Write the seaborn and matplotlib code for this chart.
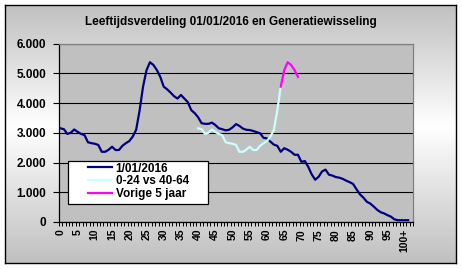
import numpy as np
import matplotlib
matplotlib.use("Agg")
import matplotlib.pyplot as plt
import seaborn as sns
from matplotlib.ticker import FuncFormatter
from matplotlib.patches import Rectangle
from matplotlib.colors import LinearSegmentedColormap
from matplotlib.lines import Line2D

# ---------------- data ----------------
title = "Leeftijdsverdeling 01/01/2016 en Generatiewisseling"

ages = list(range(0, 102))
population = [3150, 3120, 2960, 3000, 3110, 3030, 2960, 2920, 2680, 2650,
              2630, 2590, 2360, 2360, 2430, 2530, 2420, 2420, 2560, 2650,
              2720, 2870, 3100, 3750, 4550, 5100, 5370, 5280, 5110, 4880,
              4550, 4460, 4350, 4230, 4150, 4270, 4150, 4030, 3760, 3660,
              3520, 3320, 3300, 3300, 3340, 3260, 3150, 3120, 3080, 3100,
              3180, 3290, 3230, 3140, 3100, 3090, 3060, 3020, 2980, 2830,
              2810, 2700, 2600, 2560, 2360, 2480, 2430, 2360, 2260, 2260,
              2020, 2050, 1850, 1600, 1420, 1520, 1700, 1760, 1590, 1560,
              1510, 1490, 1450, 1390, 1340, 1280, 1100, 930, 820, 680,
              620, 520, 410, 330, 290, 230, 180, 90, 60, 60,
              60, 60]

shift_ages = list(range(40, 65))
shift_values = [3150, 3120, 2960, 3000, 3110, 3030, 2960, 2920, 2680, 2650,
                2630, 2590, 2360, 2360, 2430, 2530, 2420, 2420, 2560, 2650,
                2720, 2870, 3100, 3750, 4550]

prev_ages = list(range(64, 70))
prev_values = [4550, 5100, 5370, 5280, 5110, 4880]

series_labels = ["1/01/2016", "0-24 vs 40-64", "Vorige 5 jaar"]
series_colors = ["#000080", "#CCFFFF", "#FF00FF"]

tick_positions = list(range(0, 101, 5))
tick_labels = [str(v) for v in range(0, 100, 5)] + ["100+"]
y_ticks = [0, 1000, 2000, 3000, 4000, 5000, 6000]

# ---------------- figure ----------------
plt.rcParams['font.family'] = ['Liberation Sans', 'DejaVu Sans']
W, H = 462, 269
fig = plt.figure(figsize=(W / 100, H / 100), dpi=100, facecolor='white')

# gradient background with black border
bg = fig.add_axes([5 / W, 1 - 263 / H, 451 / W, 258 / H], zorder=0)
n = 400
mid = int(n * 0.47)
grad = np.concatenate([np.linspace(0, 1, mid), np.linspace(1, 0, n - mid)])
cmap = LinearSegmentedColormap.from_list("g", ["#c0c0c0", "#ffffff"])
bg.imshow(grad[:, None], aspect='auto', cmap=cmap, extent=[0, 1, 0, 1],
          origin='upper', vmin=0, vmax=1)
bg.set_xticks([]); bg.set_yticks([])
for s in bg.spines.values():
    s.set_color('black'); s.set_linewidth(1.0)

ax = fig.add_axes([58.7 / W, 1 - 222 / H, 354.6 / W, 178.5 / H], zorder=1)
ax.set_facecolor('#c0c0c0')

sns.lineplot(x=ages, y=population, ax=ax, color=series_colors[0], lw=1.6,
             legend=False, zorder=3)
sns.lineplot(x=shift_ages, y=shift_values, ax=ax, color=series_colors[1], lw=1.6,
             legend=False, zorder=4)
sns.lineplot(x=prev_ages, y=prev_values, ax=ax, color=series_colors[2], lw=1.6,
             legend=False, zorder=5)

ax.set_xlim(-0.5, 102.5)
ax.set_ylim(0, 6000)
ax.set_xlabel(""); ax.set_ylabel("")

ax.set_yticks(y_ticks)
ax.yaxis.set_major_formatter(FuncFormatter(lambda v, p: f"{int(v):,}".replace(",", ".")))
for lab in ax.get_yticklabels():
    lab.set_fontweight('bold')
ax.tick_params(axis='y', direction='out', length=4.5, width=0.8, pad=4.5,
               labelsize=8.5, colors='black')

ax.set_xticks(tick_positions)
ax.set_xticklabels(tick_labels, rotation=90, fontweight='bold', fontsize=7.5)
ax.set_xticks(np.arange(-0.5, 103, 1), minor=True)
ax.tick_params(axis='x', which='major', length=0, pad=5)
ax.tick_params(axis='x', which='minor', direction='out', length=3, width=0.7,
               color='black')

ax.yaxis.grid(True, color='black', lw=0.8)
ax.xaxis.grid(False)
ax.set_axisbelow(True)
for side in ['left', 'bottom']:
    ax.spines[side].set_color('black'); ax.spines[side].set_linewidth(0.9)
for side in ['top', 'right']:
    ax.spines[side].set_color('#808080'); ax.spines[side].set_linewidth(0.9)

fig.text(231 / W, 1 - 21.5 / H, title, ha='center', va='center',
         fontsize=8.5, fontweight='bold')

# legend
box = Rectangle((0.027, 0.101), 0.395, 0.241, transform=ax.transAxes,
                facecolor='white', edgecolor='black', lw=0.9, zorder=8)
ax.add_patch(box)
handles = [Line2D([0], [0], color=c, lw=1.6) for c in series_colors]
leg = ax.legend(handles, series_labels, loc='upper left',
                bbox_to_anchor=(0.084, 0.333), frameon=False, borderpad=0,
                borderaxespad=0, handlelength=2.0, handletextpad=0.3,
                labelspacing=0.05, prop={'weight': 'bold', 'size': 8.5})
leg.set_zorder(9)

fig.savefig('out.png', dpi=100, facecolor='white')
